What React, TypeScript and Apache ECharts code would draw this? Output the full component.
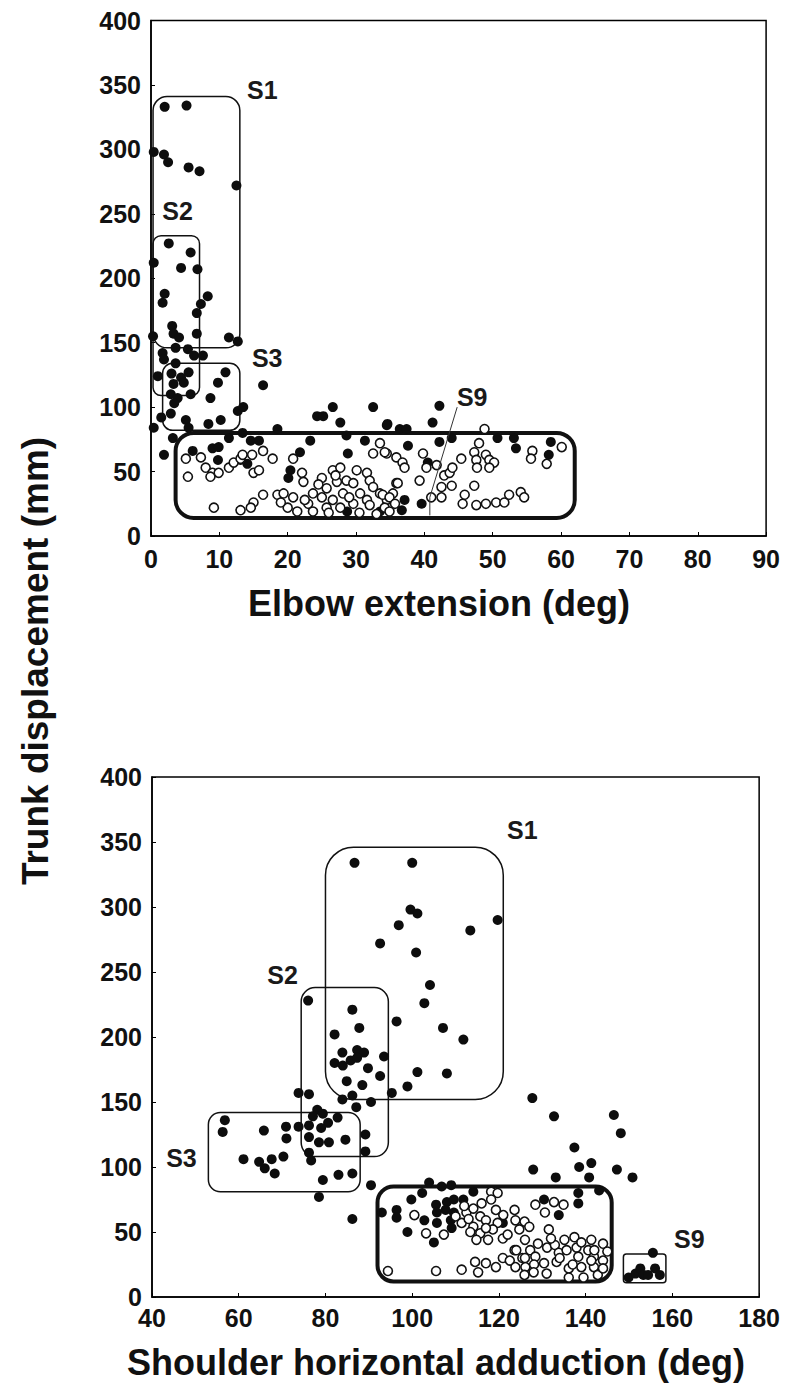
import React, { useEffect, useRef } from "react";
import * as echarts from "echarts";

type Pt = [number, number];

const FONT = "'Liberation Sans', Arial, sans-serif";

// ---------- Elbow extension vs trunk displacement ----------
const ELBOW_X_RANGE = [0, 90, 10];
const TRUNK_Y_RANGE = [0, 400, 50];

const ELBOW_FILLED: Pt[] = [
  [2.0, 333], [5.2, 334], [0.4, 298], [1.9, 296], [2.5, 290], [5.5, 286], [7.1, 283], [12.5, 272],
  [2.6, 227], [5.8, 220], [4.4, 208], [6.8, 207], [0.4, 212], [2.0, 188], [1.7, 181], [8.3, 186],
  [7.3, 180], [6.7, 173], [3.1, 163], [3.3, 157], [4.1, 154], [6.7, 157], [11.4, 154], [12.7, 151],
  [3.6, 146], [1.7, 142], [5.4, 145], [6.3, 140], [7.6, 140], [1.9, 137], [3.6, 134], [10.9, 127],
  [9.8, 119], [16.4, 117], [1.0, 124], [3.0, 126], [4.4, 123], [5.5, 127], [4.8, 119], [3.3, 118],
  [5.8, 110], [2.9, 110], [3.9, 107], [8.7, 107], [0.3, 155],
  [3.4, 103], [1.5, 92], [2.9, 95], [5.1, 90], [5.5, 84], [8.4, 87], [10.2, 90], [12.7, 97],
  [13.5, 100], [3.2, 76], [11.4, 76], [13.4, 80], [1.9, 63], [6.1, 66], [9.0, 68], [9.9, 69],
  [13.1, 59], [14.1, 56], [14.6, 74], [15.8, 74], [18.5, 83], [23.3, 74], [21.8, 65], [24.3, 93],
  [25.2, 93], [26.6, 100], [27.7, 88], [32.5, 100], [34.5, 86], [28.6, 78], [28.8, 64], [20.4, 51],
  [20.1, 45], [31.3, 74], [9.8, 59], [28.7, 19], [33.5, 19], [0.4, 84],
  [42.2, 101], [41.2, 88], [34.6, 87], [36.4, 83], [37.4, 83], [37.6, 70], [42.2, 73], [44.0, 76],
  [50.7, 76], [53.1, 76], [53.4, 68], [58.5, 73], [58.2, 63], [40.5, 57], [39.6, 25], [37.1, 28],
  [36.7, 20],
];

const ELBOW_OPEN: Pt[] = [
  [5.1, 60], [5.4, 46], [7.3, 61], [8.0, 53], [9.0, 49], [8.7, 46], [9.9, 49], [11.4, 53],
  [12.1, 57], [13.1, 60], [13.4, 63], [14.8, 63], [15.0, 49], [15.8, 51], [16.4, 66], [17.8, 60],
  [20.8, 60], [22.1, 49], [22.3, 42], [16.4, 32], [15.0, 26], [14.6, 22], [13.1, 20], [9.2, 22],
  [18.5, 32], [19.4, 33], [20.8, 30], [23.7, 33], [25.7, 37], [25.0, 45], [26.6, 51], [27.7, 53],
  [27.2, 42], [28.6, 43], [29.6, 41], [28.1, 33], [26.6, 28], [25.0, 30], [23.0, 25], [21.4, 19],
  [23.7, 19], [25.7, 22], [27.7, 22], [29.6, 25], [31.6, 28], [30.1, 51], [31.6, 49], [32.0, 43],
  [32.5, 38], [30.6, 33], [33.5, 33], [34.5, 28], [35.4, 33], [35.9, 41], [32.5, 64], [34.5, 64],
  [35.9, 61], [33.5, 72], [34.2, 65], [36.8, 57], [37.1, 53], [39.8, 64], [40.3, 53], [41.8, 55],
  [39.3, 43], [36.1, 41], [33.9, 32], [34.9, 30], [35.7, 25], [34.2, 22], [34.9, 19], [41.0, 30],
  [42.5, 30], [42.5, 38], [42.9, 47], [43.7, 49], [44.0, 39], [44.1, 53], [45.4, 60], [47.3, 65],
  [48.0, 72], [47.6, 59], [47.7, 53], [49.0, 63], [49.5, 59], [50.2, 57], [49.5, 53], [48.8, 83],
  [47.3, 39], [45.9, 32], [45.6, 25], [47.6, 24], [49.0, 25], [50.5, 26], [51.7, 26], [52.4, 32],
  [54.1, 34], [54.6, 30], [55.8, 66], [55.6, 60], [57.9, 56], [60.1, 69],
  [20.0, 22], [22.5, 28], [24.5, 40], [26.0, 18], [29.0, 30], [30.5, 18], [32.0, 24], [33.0, 17],
  [27.0, 47], [19.0, 26],
];

const ELBOW_CLUSTERS = ["S1", "S2", "S3", "S9"];
// [xMin, yMin, xMax, yMax] of each cluster outline
const ELBOW_CLUSTER_EXTENTS = [
  [0.3, 146, 13, 341],
  [0.3, 109, 7.1, 233],
  [1.7, 82, 13, 134],
  [3.6, 14, 62, 80],
];
const ELBOW_LABEL_AT: Pt[] = [[16.3, 346], [3.9, 252], [17, 138], [47, 108]];
const ELBOW_S9_LEADER: Pt[] = [[44.8, 100], [40.8, 30], [40.8, 16]];

// ---------- Shoulder horizontal adduction vs trunk displacement ----------
const SHOULDER_X_RANGE = [40, 180, 20];

const SHOULDER_FILLED: Pt[] = [
  [86.7, 334], [100.0, 334], [99.6, 298], [101.2, 295], [96.9, 286], [119.7, 290], [113.4, 282],
  [92.6, 272], [100.9, 265], [104.1, 240], [102.8, 226], [96.4, 212], [107.1, 207], [111.8, 198],
  [101.2, 173], [108.0, 172], [98.9, 162],
  [76.0, 228], [86.2, 221], [87.8, 207], [82.1, 202], [83.9, 188], [87.3, 190], [88.9, 188],
  [82.1, 180], [84.0, 178], [85.8, 182], [87.3, 184], [89.8, 176], [93.5, 185], [92.6, 170],
  [84.9, 166], [88.5, 163],
  [73.8, 157], [76.2, 156], [83.9, 152], [86.2, 155], [90.5, 150], [87.1, 146], [95.3, 157],
  [78.1, 144], [79.4, 141], [77.1, 139], [82.8, 138], [80.6, 134], [76.2, 132], [79.0, 130],
  [73.8, 131], [70.9, 131], [65.8, 128], [76.2, 123], [78.5, 119], [80.8, 119], [84.6, 121],
  [89.2, 125], [89.2, 112], [71.0, 122], [56.8, 136], [56.3, 127], [61.1, 106], [64.7, 104],
  [67.6, 106], [70.3, 108], [66.0, 99], [68.3, 95], [76.2, 111], [76.7, 105], [79.4, 90],
  [83.0, 94], [86.2, 95], [78.5, 77], [86.2, 60],
  [127.7, 153], [132.7, 139], [146.5, 140], [148.1, 126], [137.4, 115], [141.3, 103], [138.5, 100],
  [140.8, 92], [147.2, 98], [150.8, 92], [127.9, 98], [133.1, 92], [90.5, 86],
  [103.9, 88], [102.3, 80], [106.8, 85], [109.0, 86], [114.1, 81], [99.8, 75], [105.5, 71],
  [108.0, 73], [109.6, 75], [111.8, 75], [105.7, 65], [107.7, 67], [109.6, 65], [96.4, 67],
  [96.4, 61], [93.0, 65], [102.8, 59], [105.7, 57], [108.9, 59], [98.9, 50], [105.0, 42],
  [109.1, 53], [120.9, 57], [130.4, 75], [133.8, 63], [138.3, 80], [138.3, 72], [143.1, 82],
  [155.5, 34], [149.9, 15], [151.5, 18], [152.6, 22], [153.3, 17], [154.4, 17], [156.0, 22],
  [157.1, 17],
];

const SHOULDER_OPEN: Pt[] = [
  [100.5, 63], [103.2, 49], [107.3, 48], [112.5, 65], [114.1, 68], [115.7, 62], [111.4, 57],
  [114.1, 54], [117.0, 59], [119.3, 67], [119.7, 57], [118.6, 52], [115.7, 49], [113.4, 50],
  [114.8, 44], [117.5, 44], [120.9, 45], [123.6, 67], [123.8, 59], [125.9, 58], [124.7, 52],
  [127.0, 54], [118.2, 81], [119.7, 80], [118.2, 75], [128.4, 71], [130.6, 65], [131.5, 52],
  [132.7, 73], [134.9, 71], [94.4, 20], [105.5, 20], [111.4, 21], [114.5, 27], [115.2, 19],
  [117.0, 26], [119.3, 23], [120.9, 30], [122.5, 28], [123.6, 36], [123.8, 23], [126.1, 23],
  [125.9, 17], [125.4, 30], [127.2, 36], [128.4, 31], [128.1, 25], [130.4, 26], [131.1, 38],
  [132.9, 40], [133.8, 34], [133.3, 27], [135.1, 44], [135.6, 36], [136.1, 22], [136.1, 15],
  [137.4, 46], [137.9, 38], [138.3, 31], [139.0, 23], [139.5, 15], [140.6, 36], [141.3, 44],
  [141.9, 31], [141.9, 23], [142.8, 17], [144.0, 41], [144.0, 28], [141.3, 28],
  [112, 70], [116, 72], [121, 63], [117, 53], [122, 48], [126, 44], [129, 41], [132, 45],
  [134, 30], [137, 25], [139, 42], [142, 36], [144, 22], [145, 35], [128, 19], [131, 18],
  [124, 36], [126, 30], [113, 60], [110, 62],
];

const SHOULDER_CLUSTERS = ["S1", "S2", "S3", "", "S9"];
const SHOULDER_CLUSTER_EXTENTS = [
  [80, 152, 121, 346],
  [74.4, 108, 94.5, 238],
  [53, 81, 88, 142],
  [92, 12, 146, 85],
  [148.7, 11, 158.5, 33],
];
const SHOULDER_LABEL_AT: Pt[] = [[125.4, 359], [70.1, 248], [46.8, 107], [0, 0], [163.9, 45]];

// outline styles (pixels) for the cluster boxes
const ELBOW_BOX_STYLE = [
  { width: 1.5, radius: 14 },
  { width: 1.5, radius: 8 },
  { width: 1.5, radius: 10 },
  { width: 4, radius: 18 },
];
const SHOULDER_BOX_STYLE = [
  { width: 1.5, radius: 28 },
  { width: 1.5, radius: 14 },
  { width: 1.5, radius: 12 },
  { width: 4, radius: 16 },
  { width: 1.5, radius: 3 },
];

const axisLabelStyle = {
  color: "#111",
  fontSize: 25,
  fontWeight: "bold" as const,
  fontFamily: FONT,
};

function valueAxis(range: number[], gridIndex: number, margin: number) {
  return {
    type: "value" as const,
    gridIndex,
    min: range[0],
    max: range[1],
    interval: range[2],
    axisLine: { show: true, onZero: false, lineStyle: { color: "#000", width: 1.5 } },
    axisTick: { show: true, inside: true, length: 4, lineStyle: { color: "#000", width: 1 } },
    axisLabel: { ...axisLabelStyle, margin },
    splitLine: { show: false },
  };
}

function boxSeries(extents: number[][], styles: { width: number; radius: number }[], idx: number) {
  return {
    type: "custom" as const,
    xAxisIndex: idx,
    yAxisIndex: idx,
    clip: false,
    silent: true,
    z: 1,
    data: extents,
    renderItem: (params: any, api: any) => {
      const tl = api.coord([api.value(0), api.value(3)]);
      const br = api.coord([api.value(2), api.value(1)]);
      const st = styles[params.dataIndex];
      return {
        type: "rect",
        shape: { x: tl[0], y: tl[1], width: br[0] - tl[0], height: br[1] - tl[1], r: st.radius },
        style: { fill: "none", stroke: "#111", lineWidth: st.width },
      };
    },
  };
}

function labelSeries(names: string[], at: Pt[], idx: number) {
  return {
    type: "custom" as const,
    xAxisIndex: idx,
    yAxisIndex: idx,
    clip: false,
    silent: true,
    z: 5,
    data: at,
    renderItem: (params: any, api: any) => {
      const p = api.coord([api.value(0), api.value(1)]);
      return {
        type: "text",
        x: p[0],
        y: p[1],
        style: {
          text: names[params.dataIndex],
          fill: "#1a1a1a",
          fontSize: 25,
          fontWeight: "bold",
          fontFamily: FONT,
          align: "center",
          verticalAlign: "middle",
          textAlign: "center",
          textVerticalAlign: "middle",
        },
      };
    },
  };
}

function scatter(data: Pt[], idx: number, open: boolean) {
  return {
    type: "scatter" as const,
    xAxisIndex: idx,
    yAxisIndex: idx,
    data,
    symbol: "circle",
    symbolSize: open ? 9 : 10,
    z: open ? 3 : 2,
    itemStyle: open
      ? { color: "#fff", borderColor: "#111", borderWidth: 1.6, opacity: 1 }
      : { color: "#0d0d0d", borderWidth: 0, opacity: 1 },
  };
}

export default function App() {
  const ref = useRef<HTMLDivElement>(null);

  useEffect(() => {
    if (!ref.current) return;
    const chart = echarts.init(ref.current, null, { renderer: "svg" });
    const nameStyle = { fill: "#111", fontSize: 36, fontWeight: "bold", fontFamily: FONT };

    chart.setOption({
      animation: false,
      backgroundColor: "#fff",
      grid: [
        { left: 143, top: 11, width: 618, height: 517, show: true, borderColor: "#000", borderWidth: 1.5 },
        { left: 144, top: 769, width: 618, height: 520, show: true, borderColor: "#000", borderWidth: 1.5 },
      ],
      xAxis: [valueAxis(ELBOW_X_RANGE, 0, 10), valueAxis(SHOULDER_X_RANGE, 1, 8)],
      yAxis: [valueAxis(TRUNK_Y_RANGE, 0, 10), valueAxis(TRUNK_Y_RANGE, 1, 10)],
      series: [
        boxSeries(ELBOW_CLUSTER_EXTENTS, ELBOW_BOX_STYLE, 0),
        scatter(ELBOW_FILLED, 0, false),
        scatter(ELBOW_OPEN, 0, true),
        {
          type: "custom",
          xAxisIndex: 0,
          yAxisIndex: 0,
          clip: false,
          silent: true,
          z: 4,
          data: [0],
          renderItem: (_p: any, api: any) => ({
            type: "polyline",
            shape: { points: ELBOW_S9_LEADER.map((q) => api.coord(q)) },
            style: { fill: "none", stroke: "#333", lineWidth: 1 },
          }),
        },
        labelSeries(ELBOW_CLUSTERS, ELBOW_LABEL_AT, 0),
        boxSeries(SHOULDER_CLUSTER_EXTENTS, SHOULDER_BOX_STYLE, 1),
        scatter(SHOULDER_FILLED, 1, false),
        scatter(SHOULDER_OPEN, 1, true),
        labelSeries(SHOULDER_CLUSTERS, SHOULDER_LABEL_AT, 1),
      ],
      graphic: [
        {
          type: "text",
          x: 431,
          y: 595,
          style: { ...nameStyle, text: "Elbow extension (deg)", align: "center", verticalAlign: "middle" },
        },
        {
          type: "text",
          x: 428,
          y: 1354,
          style: { ...nameStyle, text: "Shoulder horizontal adduction (deg)", align: "center", verticalAlign: "middle" },
        },
        {
          type: "text",
          x: 27,
          y: 653,
          rotation: Math.PI / 2,
          style: { ...nameStyle, fontSize: 37, text: "Trunk displacement (mm)", align: "center", verticalAlign: "middle" },
        },
      ],
    });

    return () => chart.dispose();
  }, []);

  return <div ref={ref} style={{ width: 775, height: 1375 }} />;
}
